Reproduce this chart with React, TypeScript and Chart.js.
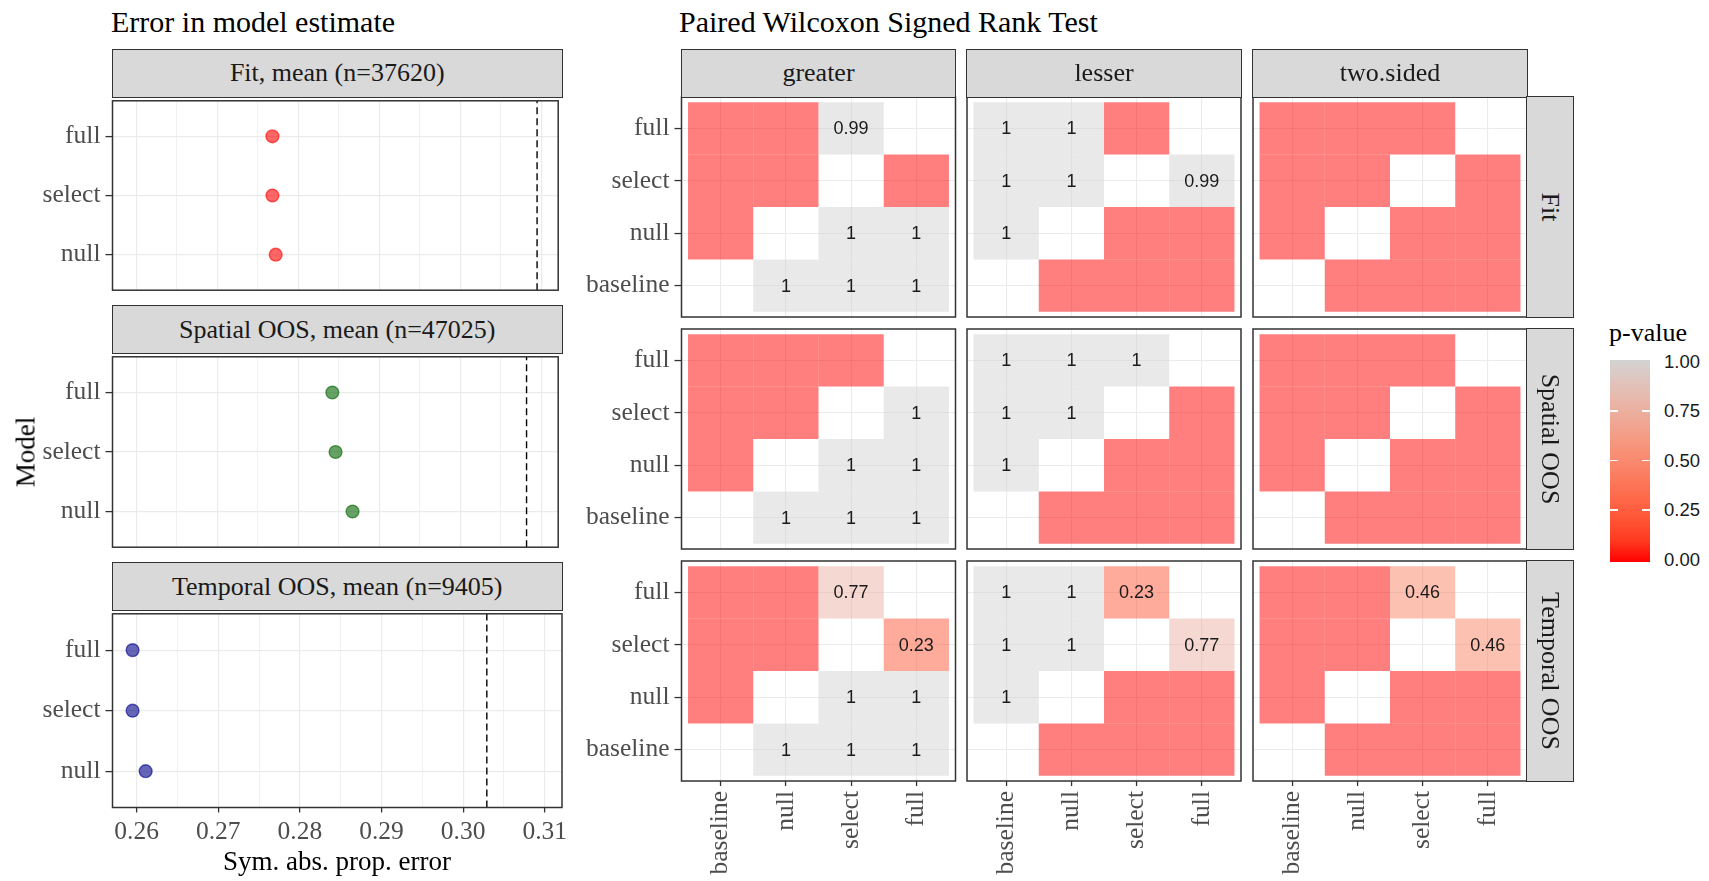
import React, { useEffect, useRef } from 'react';
import { Chart, registerables } from 'chart.js';

Chart.register(...registerables);

const SERIF = '"Liberation Serif", "Times New Roman", serif';
const SANS = '"Liberation Sans", Arial, sans-serif';

// ---------- Left: error in model estimate ----------
const dotModels = ['null', 'select', 'full']; // bottom -> top
const fitError = [0.2772, 0.2768, 0.2768];
const spatialError = [0.2867, 0.2846, 0.2842];
const temporalError = [0.2611, 0.2595, 0.2595];
const baselineError = [0.3095, 0.3082, 0.3029]; // dashed line: Fit, Spatial OOS, Temporal OOS
const errorMajorTicks = [0.26, 0.27, 0.28, 0.29, 0.3, 0.31];
const errorMinorTicks = [0.265, 0.275, 0.285, 0.295, 0.305];
const errorFacetTitles = ['Fit, mean (n=37620)', 'Spatial OOS, mean (n=47025)', 'Temporal OOS, mean (n=9405)'];
const dotColors = ['#FF0000', '#006400', '#00008B'];

// ---------- Right: paired Wilcoxon signed rank test ----------
const heatModels = ['baseline', 'null', 'select', 'full']; // x left->right, y bottom->top
const alternatives = ['greater', 'lesser', 'two.sided'];
const validations = ['Fit', 'Spatial OOS', 'Temporal OOS'];
const legendTicks = [0, 0.25, 0.5, 0.75, 1];

// matrices: rows top->bottom = full, select, null, baseline; cols = baseline, null, select, full
const fitGreater = [
  [0, 0, 0.99, null],
  [0, 0, null, 0],
  [0, null, 1, 1],
  [null, 1, 1, 1],
];
const fitLesser = [
  [1, 1, 0, null],
  [1, 1, null, 0.99],
  [1, null, 0, 0],
  [null, 0, 0, 0],
];
const fitTwoSided = [
  [0, 0, 0, null],
  [0, 0, null, 0],
  [0, null, 0, 0],
  [null, 0, 0, 0],
];
const spatialGreater = [
  [0, 0, 0, null],
  [0, 0, null, 1],
  [0, null, 1, 1],
  [null, 1, 1, 1],
];
const spatialLesser = [
  [1, 1, 1, null],
  [1, 1, null, 0],
  [1, null, 0, 0],
  [null, 0, 0, 0],
];
const spatialTwoSided = [
  [0, 0, 0, null],
  [0, 0, null, 0],
  [0, null, 0, 0],
  [null, 0, 0, 0],
];
const temporalGreater = [
  [0, 0, 0.77, null],
  [0, 0, null, 0.23],
  [0, null, 1, 1],
  [null, 1, 1, 1],
];
const temporalLesser = [
  [1, 1, 0.23, null],
  [1, 1, null, 0.77],
  [1, null, 0, 0],
  [null, 0, 0, 0],
];
const temporalTwoSided = [
  [0, 0, 0.46, null],
  [0, 0, null, 0.46],
  [0, null, 0, 0],
  [null, 0, 0, 0],
];
const pTables = [
  [fitGreater, fitLesser, fitTwoSided],
  [spatialGreater, spatialLesser, spatialTwoSided],
  [temporalGreater, temporalLesser, temporalTwoSided],
];

// ---------- layout ----------
const LEFT_L = 112.5;
const LEFT_R = 562;
const LEFT_ROWS = [
  { st: 49.5, pt: 97, pb: 294 },
  { st: 306, pt: 353.5, pb: 551 },
  { st: 563, pt: 610.5, pb: 807.5 },
];
const HEAT_COLS = [
  [681.5, 955.5],
  [967, 1241],
  [1253, 1527],
];
const HEAT_ROWS = [
  [97, 317],
  [329, 549],
  [561, 781],
];
const STRIP_TOP = 49.5;
const ROW_STRIP_R = 1573.5;

const TICK_FONT = { family: SERIF, size: 25.5 };
const TICK_COLOR = '#4D4D4D';
const GRID = '#EBEBEB';

// ---------- colour scale (Lab interpolation red -> lightgray) ----------
function toLab(rgb: number[]) {
  const lin = (c: number) => {
    c /= 255;
    return c <= 0.04045 ? c / 12.92 : Math.pow((c + 0.055) / 1.055, 2.4);
  };
  const R = lin(rgb[0]), G = lin(rgb[1]), B = lin(rgb[2]);
  const X = (0.4124 * R + 0.3576 * G + 0.1805 * B) / 0.95047;
  const Y = 0.2126 * R + 0.7152 * G + 0.0722 * B;
  const Z = (0.0193 * R + 0.1192 * G + 0.9505 * B) / 1.08883;
  const f = (t: number) => (t > 0.008856 ? Math.cbrt(t) : 7.787 * t + 16 / 116);
  return [116 * f(Y) - 16, 500 * (f(X) - f(Y)), 200 * (f(Y) - f(Z))];
}
function fromLab(lab: number[]) {
  const fy = (lab[0] + 16) / 116;
  const fx = fy + lab[1] / 500;
  const fz = fy - lab[2] / 200;
  const inv = (t: number) => (t * t * t > 0.008856 ? t * t * t : (t - 16 / 116) / 7.787);
  const X = inv(fx) * 0.95047, Y = inv(fy), Z = inv(fz) * 1.08883;
  const R = 3.2406 * X - 1.5372 * Y - 0.4986 * Z;
  const G = -0.9689 * X + 1.8758 * Y + 0.0415 * Z;
  const B = 0.0557 * X - 0.204 * Y + 1.057 * Z;
  const g = (c: number) => {
    c = c <= 0.0031308 ? 12.92 * c : 1.055 * Math.pow(c, 1 / 2.4) - 0.055;
    return Math.round(Math.min(1, Math.max(0, c)) * 255);
  };
  return [g(R), g(G), g(B)];
}
const LOW_LAB = toLab([255, 0, 0]);
const HIGH_LAB = toLab([211, 211, 211]);
function pColor(p: number, alpha = 1) {
  const lab = LOW_LAB.map((v, i) => v + (HIGH_LAB[i] - v) * p);
  const [r, g, b] = fromLab(lab);
  return `rgba(${r},${g},${b},${alpha})`;
}
function hexA(hex: string, a: number) {
  const n = parseInt(hex.slice(1), 16);
  return `rgba(${(n >> 16) & 255},${(n >> 8) & 255},${n & 255},${a})`;
}

// ---------- plugins ----------
const framePlugin = {
  id: 'panelFrame',
  afterDraw(chart: any) {
    const { ctx, chartArea: a } = chart;
    ctx.save();
    ctx.strokeStyle = '#333333';
    ctx.lineWidth = 1.5;
    ctx.strokeRect(a.left, a.top, a.right - a.left, a.bottom - a.top);
    ctx.restore();
  },
};
function cellLabelPlugin(labels: string[]) {
  return {
    id: 'cellLabels',
    afterDatasetsDraw(chart: any) {
      const meta = chart.getDatasetMeta(0);
      const ctx = chart.ctx;
      ctx.save();
      ctx.font = `18px ${SANS}`;
      ctx.fillStyle = '#1A1A1A';
      ctx.textAlign = 'center';
      ctx.textBaseline = 'middle';
      meta.data.forEach((el: any, i: number) => {
        if (!labels[i]) return;
        const c = el.getCenterPoint();
        ctx.fillText(labels[i], c.x, c.y + 1);
      });
      ctx.restore();
    },
  };
}

// ---------- boxes ----------
type Area = { l: number; t: number; r: number; b: number };
function frameBox(a: Area, yW: number, xH: number, padR = 4) {
  const pad = 4;
  const left = Math.floor(a.l - yW - pad);
  const top = Math.floor(a.t - pad);
  const right = Math.ceil(a.r + padR);
  const bottom = Math.ceil(a.b + xH + pad);
  return {
    left,
    top,
    width: right - left,
    height: bottom - top,
    padding: { left: a.l - yW - left, top: a.t - top, right: right - a.r, bottom: bottom - a.b - xH },
  };
}

// fix an axis' size and drop its label-overflow padding so the plot area is exact
function fixSize(dim: 'width' | 'height', size: number) {
  return (s: any) => {
    s[dim] = size;
    s.paddingTop = 0;
    s.paddingBottom = 0;
    s.paddingLeft = 0;
    s.paddingRight = 0;
  };
}

const isMajor = (v: number) => errorMajorTicks.some((m) => Math.abs(m - v) < 1e-9);

function dotConfig(idx: number, vals: number[], padding: any, yW: number, xH: number) {
  const showX = idx === 2;
  const color = dotColors[idx];
  const allTicks = [...errorMajorTicks, ...errorMinorTicks].sort((a, b) => a - b);
  return {
    type: 'scatter',
    data: {
      datasets: [
        {
          type: 'line',
          data: [
            { x: baselineError[idx], y: 0.4 },
            { x: baselineError[idx], y: 3.6 },
          ],
          borderColor: '#000000',
          borderWidth: 1.4,
          borderDash: [7, 4],
          pointRadius: 0,
          fill: false,
          order: 2,
        },
        {
          type: 'scatter',
          data: vals.map((v, i) => ({ x: v, y: i + 1 })),
          pointRadius: 6.4,
          pointBorderWidth: 1.4,
          pointBackgroundColor: hexA(color, 0.6),
          pointBorderColor: hexA(color, 0.6),
          order: 1,
        },
      ],
    },
    options: {
      animation: false,
      responsive: false,
      devicePixelRatio: 1,
      layout: { padding },
      plugins: { legend: { display: false }, tooltip: { enabled: false } },
      scales: {
        x: {
          type: 'linear',
          min: 0.25704,
          max: 0.31211,
          afterBuildTicks: (s: any) => {
            s.ticks = allTicks.map((v) => ({ value: v }));
          },
          afterFit: fixSize('height', xH),
          ticks: {
            display: showX,
            autoSkip: false,
            maxRotation: 0,
            minRotation: 0,
            padding: 4,
            font: TICK_FONT,
            color: TICK_COLOR,
            callback: (v: number) => (isMajor(v) ? v.toFixed(2) : ''),
          },
          grid: {
            color: GRID,
            lineWidth: (c: any) => (c.tick && isMajor(c.tick.value) ? 1.2 : 0.7),
            drawTicks: showX,
            tickLength: 5,
            tickWidth: 1.3,
            tickColor: (c: any) => (c.tick && isMajor(c.tick.value) ? '#333333' : 'rgba(0,0,0,0)'),
          },
          border: { display: false },
        },
        y: {
          type: 'linear',
          min: 0.4,
          max: 3.6,
          afterBuildTicks: (s: any) => {
            s.ticks = dotModels.map((_, i) => ({ value: i + 1 }));
          },
          afterFit: fixSize('width', yW),
          ticks: {
            autoSkip: false,
            padding: 5,
            font: TICK_FONT,
            color: TICK_COLOR,
            callback: (v: number) => dotModels[Math.round(v) - 1],
          },
          grid: { color: GRID, lineWidth: 1.2, tickLength: 7, tickWidth: 1.3, tickColor: '#333333' },
          border: { display: false },
        },
      },
    },
    plugins: [framePlugin],
  };
}

function heatConfig(table: (number | null)[][], showX: boolean, showY: boolean, padding: any, yW: number, xH: number) {
  const cells: { x: number; y: number[] }[] = [];
  const colors: string[] = [];
  const labels: string[] = [];
  table.forEach((row, k) => {
    const yv = heatModels.length - k;
    row.forEach((p, c) => {
      if (p === null) return;
      cells.push({ x: c + 1, y: [yv - 0.5, yv + 0.5] });
      colors.push(pColor(p, 0.5));
      labels.push(p >= 0.05 ? String(Math.round(p * 100) / 100) : '');
    });
  });
  const catTicks = (s: any) => {
    s.ticks = heatModels.map((_, i) => ({ value: i + 1 }));
  };
  return {
    type: 'bar',
    data: {
      datasets: [
        {
          data: cells,
          backgroundColor: colors,
          borderWidth: 0,
          inflateAmount: 0,
          barPercentage: 1,
          categoryPercentage: 1,
        },
      ],
    },
    options: {
      animation: false,
      responsive: false,
      devicePixelRatio: 1,
      layout: { padding },
      plugins: { legend: { display: false }, tooltip: { enabled: false } },
      scales: {
        x: {
          type: 'linear',
          min: 0.4,
          max: 4.6,
          offset: false,
          afterBuildTicks: catTicks,
          afterFit: fixSize('height', xH),
          ticks: {
            display: showX,
            autoSkip: false,
            minRotation: 90,
            maxRotation: 90,
            padding: 5,
            font: TICK_FONT,
            color: TICK_COLOR,
            callback: (v: number) => heatModels[Math.round(v) - 1],
          },
          grid: { offset: false, color: GRID, lineWidth: 1.1, drawTicks: showX, tickLength: 5, tickWidth: 1.3, tickColor: '#333333' },
          border: { display: false },
        },
        y: {
          type: 'linear',
          min: 0.4,
          max: 4.6,
          afterBuildTicks: catTicks,
          afterFit: fixSize('width', yW),
          ticks: {
            display: showY,
            autoSkip: false,
            padding: 5,
            font: TICK_FONT,
            color: TICK_COLOR,
            callback: (v: number) => heatModels[Math.round(v) - 1],
          },
          grid: { color: GRID, lineWidth: 1.1, drawTicks: showY, tickLength: 7, tickWidth: 1.3, tickColor: '#333333' },
          border: { display: false },
        },
      },
    },
    plugins: [framePlugin, cellLabelPlugin(labels)],
  };
}

function ChartCanvas({ box, make }: { box: any; make: () => any }) {
  const ref = useRef<HTMLCanvasElement>(null);
  useEffect(() => {
    const chart = new Chart(ref.current as HTMLCanvasElement, make() as any);
    return () => chart.destroy();
  }, []);
  return (
    <canvas
      ref={ref}
      width={box.width}
      height={box.height}
      style={{ position: 'absolute', left: box.left, top: box.top, width: box.width, height: box.height }}
    />
  );
}

function Strip({ l, t, r, b, text, vertical }: { l: number; t: number; r: number; b: number; text: string; vertical?: boolean }) {
  return (
    <div
      style={{
        position: 'absolute',
        left: l - 0.75,
        top: t - 0.75,
        width: r - l + 1.5,
        height: b - t + 1.5,
        boxSizing: 'border-box',
        background: '#D9D9D9',
        border: '1.5px solid #333333',
        display: 'flex',
        alignItems: 'center',
        justifyContent: 'center',
        fontSize: 26,
        lineHeight: 1,
        color: '#1A1A1A',
        whiteSpace: 'nowrap',
        overflow: 'visible',
      }}
    >
      <span style={vertical ? { display: 'inline-block', transform: 'rotate(90deg)' } : undefined}>{text}</span>
    </div>
  );
}

export default function App() {
  const dotSeries = [fitError, spatialError, temporalError];
  const legendY = (p: number) => 559.5 - p * 198;
  const gradStops = [0, 0.1, 0.2, 0.3, 0.4, 0.5, 0.6, 0.7, 0.8, 0.9, 1]
    .map((p) => `${pColor(p)} ${(p * 100).toFixed(0)}%`)
    .join(', ');

  return (
    <div
      style={{
        position: 'absolute',
        left: 0,
        top: 0,
        width: 1709,
        height: 881,
        overflow: 'hidden',
        background: '#ffffff',
        fontFamily: SERIF,
      }}
    >
      <div style={{ position: 'absolute', left: 111, top: 6.5, fontSize: 30, lineHeight: '30px', color: '#000', whiteSpace: 'nowrap' }}>
        Error in model estimate
      </div>
      <div style={{ position: 'absolute', left: 679, top: 6.5, fontSize: 30, lineHeight: '30px', color: '#000', whiteSpace: 'nowrap' }}>
        Paired Wilcoxon Signed Rank Test
      </div>

      {LEFT_ROWS.map((row, i) => {
        const xH = i === 2 ? 40 : 0;
        const yW = 105;
        const box = frameBox({ l: LEFT_L, t: row.pt, r: LEFT_R, b: row.pb }, yW, xH, i === 2 ? 30 : 4);
        return (
          <React.Fragment key={'dot' + i}>
            <ChartCanvas box={box} make={() => dotConfig(i, dotSeries[i], box.padding, yW, xH)} />
            <Strip l={LEFT_L} t={row.st} r={LEFT_R} b={row.pt} text={errorFacetTitles[i]} />
          </React.Fragment>
        );
      })}

      <div
        style={{
          position: 'absolute',
          left: 26,
          top: 452,
          fontSize: 27,
          lineHeight: '27px',
          color: '#000',
          whiteSpace: 'nowrap',
          transform: 'translate(-50%, -50%) rotate(-90deg)',
        }}
      >
        Model
      </div>
      <div
        style={{
          position: 'absolute',
          left: 337,
          top: 847.5,
          fontSize: 27,
          lineHeight: '27px',
          color: '#000',
          whiteSpace: 'nowrap',
          transform: 'translateX(-50%)',
        }}
      >
        Sym. abs. prop. error
      </div>

      {HEAT_ROWS.map((rowY, ri) =>
        HEAT_COLS.map((colX, ci) => {
          const showX = ri === 2;
          const showY = ci === 0;
          const yW = showY ? 110 : 0;
          const xH = showX ? 96 : 0;
          const box = frameBox({ l: colX[0], t: rowY[0], r: colX[1], b: rowY[1] }, yW, xH);
          return (
            <ChartCanvas
              key={`h${ri}${ci}`}
              box={box}
              make={() => heatConfig(pTables[ri][ci], showX, showY, box.padding, yW, xH)}
            />
          );
        })
      )}
      {HEAT_COLS.map((colX, ci) => (
        <Strip key={'cs' + ci} l={colX[0]} t={STRIP_TOP} r={colX[1]} b={HEAT_ROWS[0][0]} text={alternatives[ci]} />
      ))}
      {HEAT_ROWS.map((rowY, ri) => (
        <Strip key={'rs' + ri} l={HEAT_COLS[2][1]} t={rowY[0]} r={ROW_STRIP_R} b={rowY[1]} text={validations[ri]} vertical />
      ))}

      {/* legend */}
      <div style={{ position: 'absolute', left: 1609, top: 320, fontSize: 26, lineHeight: '26px', color: '#000', whiteSpace: 'nowrap' }}>
        p-value
      </div>
      <div
        style={{
          position: 'absolute',
          left: 1610,
          top: legendY(1) - 2,
          width: 40,
          height: legendY(0) - legendY(1) + 4,
          background: `linear-gradient(to top, ${gradStops})`,
        }}
      />
      {legendTicks
        .filter((p) => p > 0 && p < 1)
        .map((p) => (
          <React.Fragment key={'lt' + p}>
            <div style={{ position: 'absolute', left: 1610, top: legendY(p) - 0.75, width: 8, height: 1.5, background: '#fff' }} />
            <div style={{ position: 'absolute', left: 1642, top: legendY(p) - 0.75, width: 8, height: 1.5, background: '#fff' }} />
          </React.Fragment>
        ))}
      {legendTicks.map((p) => (
        <div
          key={'ll' + p}
          style={{
            position: 'absolute',
            left: 1664,
            top: legendY(p),
            fontFamily: SANS,
            fontSize: 18.5,
            lineHeight: 1,
            color: '#1A1A1A',
            transform: 'translateY(-50%)',
            whiteSpace: 'nowrap',
          }}
        >
          {p.toFixed(2)}
        </div>
      ))}
    </div>
  );
}
